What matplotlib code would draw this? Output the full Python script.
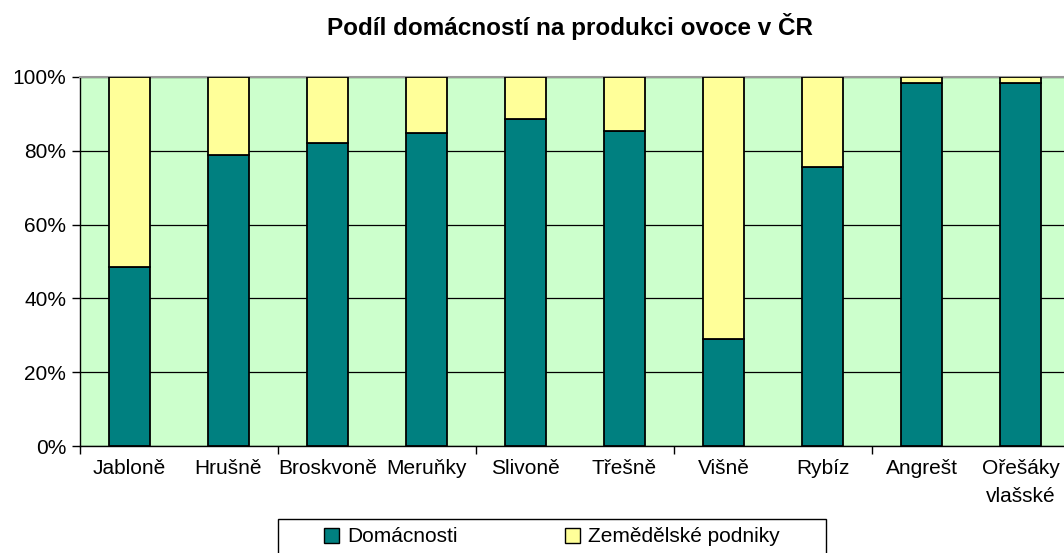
import numpy as np
import matplotlib.pyplot as plt
from matplotlib.patches import Rectangle
from matplotlib.ticker import FixedLocator, PercentFormatter

# ---------- data ----------
categories = ['Jabloně', 'Hrušně', 'Broskvoně', 'Meruňky', 'Slivoně',
              'Třešně', 'Višně', 'Rybíz', 'Angrešt', 'Ořešáky\nvlašské']
domacnosti = [48.4, 78.8, 82.0, 84.7, 88.5, 85.4, 28.9, 75.5, 98.3, 98.3]
podniky = [100 - v for v in domacnosti]
series_labels = ['Domácnosti', 'Zemědělské podniky']
title = 'Podíl domácností na produkci ovoce v ČR'

plt.rcParams['font.family'] = ['Liberation Sans', 'DejaVu Sans']
fs = 15

W, H = 1064, 553
fig = plt.figure(figsize=(W / 100, H / 100), dpi=100)
ax = fig.add_axes([80 / W, 107 / H, 990 / W, 369 / H])
ax.set_facecolor('#CCFFCC')

x = np.arange(len(categories))
ax.set_axisbelow(True)
ax.grid(axis='y', color='black', linewidth=0.9)
ax.bar(x, domacnosti, width=0.42, color='#008080', edgecolor='black',
       linewidth=1.3, label=series_labels[0], zorder=3)
ax.bar(x, podniky, width=0.42, bottom=domacnosti, color='#FFFF99',
       edgecolor='black', linewidth=1.3, label=series_labels[1], zorder=3)

ax.set_xlim(-0.5, len(categories) - 0.5)
ax.set_ylim(0, 100)
ax.set_yticks(np.arange(0, 101, 20))
ax.yaxis.set_major_formatter(PercentFormatter(decimals=0))
ax.set_xticks(x)
ax.set_xticklabels(categories, multialignment='center', linespacing=1.65)
ax.xaxis.set_minor_locator(FixedLocator(np.arange(-0.5, len(categories), 2)))
ax.tick_params(axis='x', which='major', length=0, pad=9, labelsize=fs)
ax.tick_params(axis='x', which='minor', length=6, width=1, direction='out')
ax.tick_params(axis='y', length=6, width=1, pad=4, labelsize=fs)

for s in ['left', 'bottom']:
    ax.spines[s].set_color('black')
    ax.spines[s].set_linewidth(1)
ax.spines['top'].set_color('#999999')
ax.spines['top'].set_linewidth(1.5)
ax.spines['right'].set_color('#999999')

fig.text(570 / W, 1 - 27 / H, title, ha='center', va='center',
         fontsize=17.5, fontweight='bold')

# legend box (Excel style, wide padding)
fig.patches.append(Rectangle((278 / W, -4 / H), 548 / W, 38 / H,
                             transform=fig.transFigure, facecolor='white',
                             edgecolor='black', linewidth=1))
leg = fig.legend(loc='center', bbox_to_anchor=(552 / W, 1 - 537 / H),
                 ncol=2, frameon=False, fontsize=fs,
                 handlelength=0.7, handleheight=0.7, handletextpad=0.4,
                 columnspacing=5.15, borderpad=0.3, borderaxespad=0)
for h in leg.legend_handles:
    h.set_linewidth(1)

fig.savefig('out.png', dpi=100)
